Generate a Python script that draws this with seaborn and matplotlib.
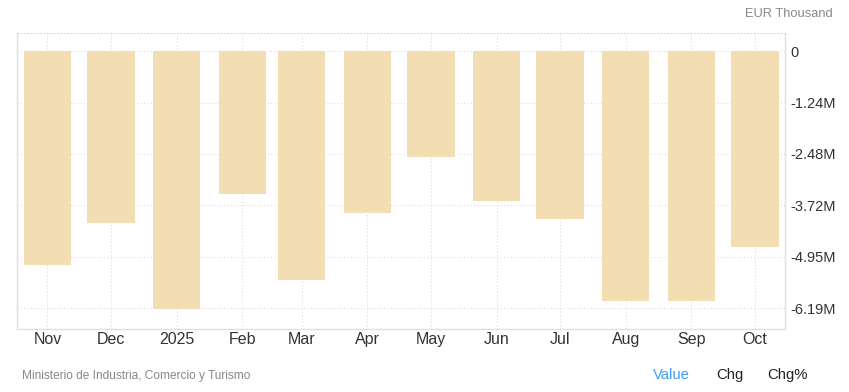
import pandas as pd
import numpy as np
import matplotlib
matplotlib.use("Agg")
import matplotlib.pyplot as plt
import matplotlib.dates as mdates
import seaborn as sns

# monthly values, EUR thousand
months = ["2024-11-01", "2024-12-01", "2025-01-01", "2025-02-01", "2025-03-01", "2025-04-01",
          "2025-05-01", "2025-06-01", "2025-07-01", "2025-08-01", "2025-09-01", "2025-10-01"]
values = [-5140000, -4130000, -6200000, -3430000, -5510000, -3890000,
          -2560000, -3610000, -4040000, -6020000, -6020000, -4710000]
tick_labels_x = ["Nov", "Dec", "2025", "Feb", "Mar", "Apr", "May", "Jun", "Jul", "Aug", "Sep", "Oct"]
tick_values_y = [0, -1237500, -2475000, -3712500, -4950000, -6187500]
tick_labels_y = ["0", "-1.24M", "-2.48M", "-3.72M", "-4.95M", "-6.19M"]

BAR = "#F3DDB3"
GRID = "#dddddd"

df = pd.DataFrame({"date": pd.to_datetime(months), "value": values})
df["x"] = mdates.date2num(df["date"])

sns.set_style("white")
plt.rcParams["font.family"] = ["Liberation Sans", "DejaVu Sans"]

fig = plt.figure(figsize=(8.49, 3.92), dpi=100)
ax = fig.add_axes([17 / 849, 1 - 329.3 / 392, (785 - 17) / 849, (329.3 - 33) / 392])

sns.barplot(data=df, x="x", y="value", native_scale=True, color=BAR,
            saturation=1, edgecolor="none", linewidth=0, ax=ax, zorder=2)

ax.set_xlim(df["x"].iloc[0] - 14.4, df["x"].iloc[-1] + 14.2)
ax.set_ylim(-6.70e6, 0.44e6)

ax.set_xticks(df["x"])
ax.set_xticklabels(tick_labels_x)
ax.set_yticks(tick_values_y)
ax.set_yticklabels(tick_labels_y)
ax.yaxis.tick_right()
ax.tick_params(axis="x", length=0, pad=2, labelsize=11.5, colors="#333333")
ax.tick_params(axis="y", length=0, pad=4, labelsize=10.5, colors="#333333")
ax.set_xlabel("")
ax.set_ylabel("")

ax.grid(True, color=GRID, linestyle=(0, (1, 2)), linewidth=0.8, zorder=0)
ax.set_axisbelow(True)
for side in ["left", "bottom", "right"]:
    ax.spines[side].set_visible(True)
    ax.spines[side].set_color("#e0e0e0")
    ax.spines[side].set_linewidth(1)
ax.spines["top"].set_visible(True)
ax.spines["top"].set_color(GRID)
ax.spines["top"].set_linestyle((0, (1, 2)))
ax.spines["top"].set_linewidth(0.8)

fig.text(833 / 849, 1 - 14 / 392, "EUR Thousand", ha="right", va="center",
         fontsize=9.3, color="#888888")
fig.text(22 / 849, 1 - 376 / 392, "Ministerio de Industria, Comercio y Turismo",
         ha="left", va="center", fontsize=8.6, color="#888888")
fig.text(653 / 849, 1 - 375 / 392, "Value", ha="left", va="center",
         fontsize=10.7, color="#3d9df2")
fig.text(716 / 849, 1 - 375 / 392, "Chg", ha="left", va="center",
         fontsize=10.7, color="#222222")
fig.text(767 / 849, 1 - 375 / 392, "Chg%", ha="left", va="center",
         fontsize=10.7, color="#222222")

fig.savefig("out.png", dpi=100)
